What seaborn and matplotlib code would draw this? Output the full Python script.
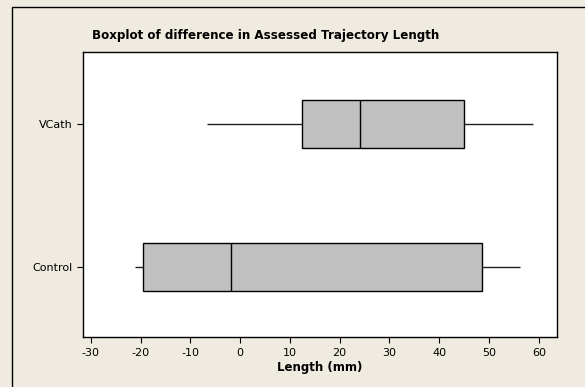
import matplotlib
matplotlib.use("Agg")
import matplotlib.pyplot as plt
from matplotlib.lines import Line2D
import seaborn as sns
import pandas as pd

groups = ["VCath", "Control"]
vcath_values = [-6.6, 12.5, 24.1, 45.0, 58.8]     # min, Q1, median, Q3, max
control_values = [-21.2, -19.5, -1.9, 48.5, 56.2]
x_ticks = [-30, -20, -10, 0, 10, 20, 30, 40, 50, 60]
title = "Boxplot of difference in Assessed Trajectory Length"
xlabel = "Length (mm)"

df = pd.DataFrame({
    "Group": ["VCath"] * len(vcath_values) + ["Control"] * len(control_values),
    "Length": vcath_values + control_values,
})

sns.set_style("white")
plt.rcParams["font.family"] = ["DejaVu Sans"]
plt.rcParams["text.color"] = "black"
plt.rcParams["axes.labelcolor"] = "black"
plt.rcParams["xtick.color"] = "black"
plt.rcParams["ytick.color"] = "black"

bg = "#EFEBE0"
fig = plt.figure(figsize=(5.85, 3.87), dpi=100, facecolor=bg)
ax = fig.add_axes([0.1424, 0.1284, 0.8092, 0.738])
ax.set_facecolor("white")

sns.boxplot(data=df, x="Length", y="Group", order=groups, ax=ax,
            whis=(0, 100), width=0.336, color="#C0C0C0", saturation=1,
            linecolor="black", linewidth=1.0, showcaps=False,
            whiskerprops=dict(color="#202020", linewidth=1.0),
            medianprops=dict(color="black", linewidth=1.0))

ax.set_xlim(-31.5, 63.6)
ax.set_ylim(1.493, -0.509)
ax.set_xticks(x_ticks)
ax.set_xticklabels([str(t) for t in x_ticks], fontsize=8)
ax.tick_params(axis="y", labelsize=8)
ax.tick_params(axis="both", direction="out", length=4, width=0.8,
               color="black", labelcolor="black", bottom=True, left=True)
ax.set_ylabel("")
ax.set_xlabel(xlabel, fontsize=8.5, fontweight="bold", labelpad=2, color="black")
for s in ax.spines.values():
    s.set_visible(True)
    s.set_color("black")
    s.set_linewidth(1.0)

fig.text(266 / 585, 1 - 35 / 387, title, ha="center", va="center",
         fontsize=8.6, fontweight="bold", color="black")

# outer frame (top and left)
fig.add_artist(Line2D([11.5 / 585, 11.5 / 585, 1.0],
                      [0.0, 1 - 7 / 387, 1 - 7 / 387],
                      transform=fig.transFigure, color="black", linewidth=1.0))

fig.savefig("out.png", dpi=100, facecolor=bg)
